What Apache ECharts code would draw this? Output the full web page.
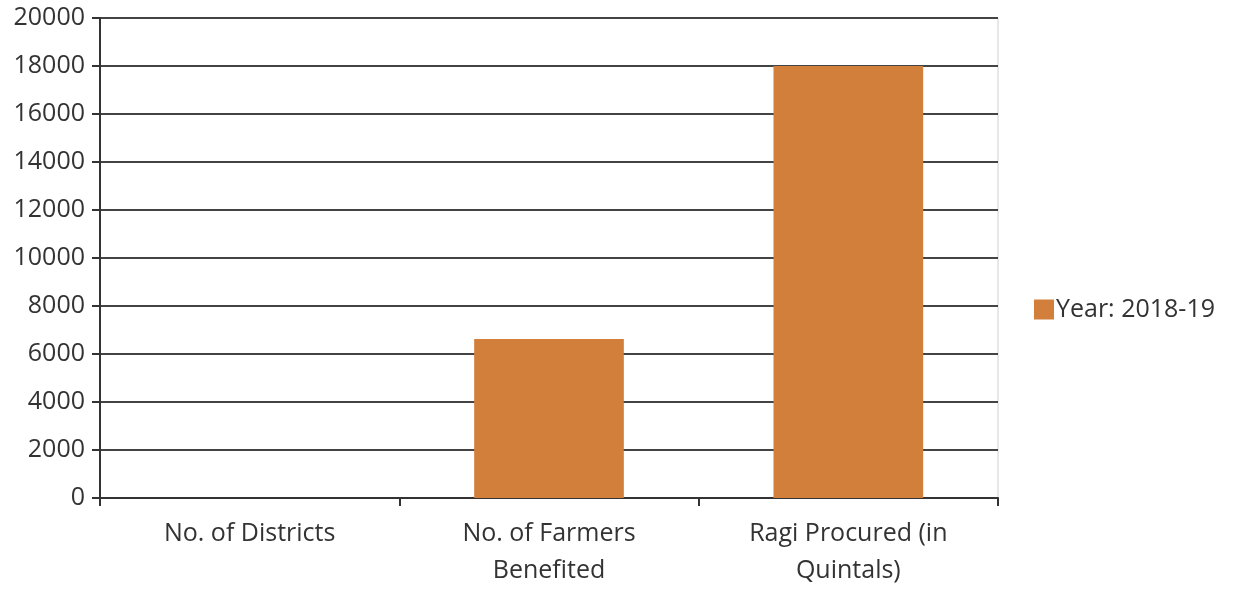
<!DOCTYPE html>
<html><head><meta charset="utf-8">
<script src="https://cdn.jsdelivr.net/npm/echarts@6/dist/echarts.min.js"></script>
<style>html,body{margin:0;padding:0;background:#fff}#c{width:1236px;height:589px}</style>
</head><body><div id="c"></div>
<script>
const categories = ['No. of Districts', 'No. of Farmers\nBenefited', 'Ragi Procured (in\nQuintals)'];
const seriesName = 'Year: 2018-19';
const values = [3, 6620, 18000];
const yTicks = [0, 2000, 4000, 6000, 8000, 10000, 12000, 14000, 16000, 18000, 20000];

const chart = echarts.init(document.getElementById('c'), null, {renderer: 'canvas'});
const font = 'Open Sans';
chart.setOption({
  animation: false,
  textStyle: {fontFamily: font},
  grid: {left: 100, right: 238, top: 18, bottom: 88, show: true, borderColor: '#d0d0d0', borderWidth: 1, backgroundColor: 'transparent'},
  legend: {
    show: true, orient: 'vertical', left: 1029, top: 292,
    itemWidth: 20, itemHeight: 20, itemGap: 6, icon: 'rect',
    textStyle: {fontFamily: font, fontSize: 25, color: '#333', padding: [0, 0, 0, -3]},
    data: [seriesName]
  },
  xAxis: {
    type: 'category', data: categories,
    axisLine: {show: true, lineStyle: {color: '#333', width: 2}},
    axisTick: {show: true, length: 8, alignWithLabel: false, lineStyle: {color: '#333', width: 2}},
    axisLabel: {fontFamily: font, fontSize: 25, color: '#333', margin: 17, lineHeight: 37, interval: 0}
  },
  yAxis: {
    type: 'value', min: yTicks[0], max: yTicks[yTicks.length - 1], interval: 2000,
    axisLine: {show: true, lineStyle: {color: '#333', width: 2}},
    axisTick: {show: true, length: 8, lineStyle: {color: '#333', width: 2}},
    splitLine: {show: true, lineStyle: {color: '#444', width: 2}},
    axisLabel: {fontFamily: font, fontSize: 25, color: '#333', margin: 15, formatter: v => String(v)}
  },
  series: [{
    name: seriesName, type: 'bar', data: values, barWidth: '50%',
    itemStyle: {color: '#D27F3C'}
  }]
});
</script></body></html>
